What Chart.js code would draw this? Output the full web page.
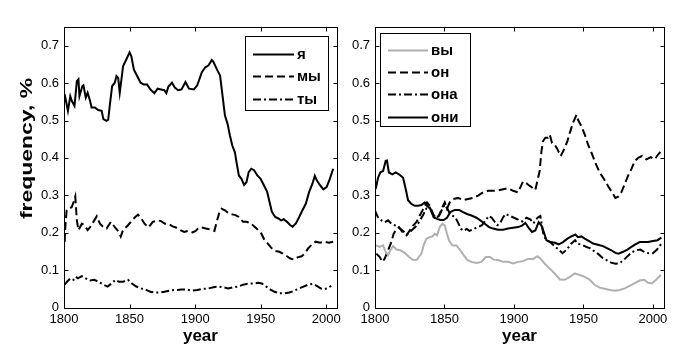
<!DOCTYPE html>
<html>
<head>
<meta charset="utf-8">
<script src="https://cdn.jsdelivr.net/npm/chart.js@4.4.1/dist/chart.umd.min.js"></script>
<style>
    body { margin: 0; background: #fff; width: 685px; height: 352px; overflow: hidden; position: relative; }
    canvas { position: absolute; top: 0; }
    #left-chart { left: 0; }
    #right-chart { left: 345px; }
</style>
</head>
<body>
<canvas id="left-chart" width="345" height="352"></canvas>
<canvas id="right-chart" width="340" height="352"></canvas>
<script>
// Tick labels
const xTicks = [1800, 1850, 1900, 1950, 2000];
const yTicks = [0, 0.1, 0.2, 0.3, 0.4, 0.5, 0.6, 0.7];

// Left panel: я, мы, ты
const yaYears = [1800.5, 1803, 1804.8, 1806, 1808, 1809.8, 1811, 1811.8, 1814, 1814.8, 1816.6, 1818, 1819.9, 1821, 1823.6, 1826, 1828.7, 1830, 1832.5, 1833.7, 1835, 1836.7, 1838.7, 1840, 1841.3, 1842.5, 1843.8, 1845, 1847.5, 1850, 1851.3, 1853.3, 1855.8, 1858.4, 1860.9, 1863.4, 1865.9, 1868.9, 1871.4, 1874, 1876.5, 1878, 1879.5, 1882.3, 1884.5, 1887, 1889.6, 1892.6, 1895.3, 1899, 1901.6, 1905.1, 1907.6, 1910.1, 1912.7, 1913.9, 1916.4, 1919, 1920.7, 1922.7, 1924.7, 1926.5, 1928.3, 1930.3, 1931.5, 1933.3, 1935.3, 1937.3, 1939.1, 1940.8, 1942.8, 1944.9, 1947.4, 1949.9, 1952.4, 1954.9, 1956.7, 1958.5, 1961, 1963.5, 1965.5, 1967.5, 1970, 1972.5, 1974.3, 1976.8, 1979.3, 1981.8, 1984.4, 1986.9, 1989.4, 1991.2, 1992.7, 1995.2, 1997.7, 2000.2, 2002.7, 2005.2];
const yaValues = [0.57, 0.526, 0.565, 0.552, 0.539, 0.605, 0.61, 0.565, 0.592, 0.594, 0.561, 0.574, 0.552, 0.535, 0.535, 0.528, 0.526, 0.504, 0.499, 0.502, 0.543, 0.592, 0.601, 0.619, 0.614, 0.574, 0.61, 0.645, 0.663, 0.682, 0.672, 0.636, 0.619, 0.601, 0.596, 0.596, 0.583, 0.573, 0.585, 0.583, 0.581, 0.573, 0.59, 0.601, 0.588, 0.581, 0.583, 0.603, 0.585, 0.583, 0.594, 0.629, 0.642, 0.647, 0.662, 0.657, 0.638, 0.62, 0.571, 0.513, 0.491, 0.46, 0.433, 0.415, 0.389, 0.353, 0.344, 0.328, 0.335, 0.362, 0.371, 0.367, 0.353, 0.344, 0.327, 0.309, 0.282, 0.256, 0.242, 0.238, 0.233, 0.236, 0.229, 0.22, 0.216, 0.225, 0.242, 0.26, 0.278, 0.309, 0.331, 0.352, 0.34, 0.327, 0.316, 0.322, 0.344, 0.371];

const myYears = [1800.5, 1801, 1802, 1804, 1806, 1807.3, 1808.6, 1809.3, 1809.8, 1811, 1813.6, 1815.6, 1818, 1819.9, 1822.4, 1825, 1827.4, 1830, 1832.5, 1835.7, 1838.7, 1841.8, 1843.3, 1845, 1848.8, 1851.8, 1854.3, 1856.4, 1858.9, 1861.4, 1864.4, 1867.7, 1871.4, 1874, 1877, 1879.5, 1882.8, 1885.3, 1888.6, 1891.6, 1894.6, 1897.9, 1900.4, 1902.9, 1905.1, 1908.1, 1911.4, 1914.7, 1916.4, 1918.2, 1920.2, 1922.7, 1925.7, 1928.3, 1930.8, 1933.3, 1936.6, 1939.1, 1942.3, 1944.9, 1947.4, 1950.4, 1952.9, 1955.4, 1957.9, 1961, 1964.2, 1966.8, 1970, 1972.5, 1975.6, 1978.1, 1981.1, 1983.6, 1986.1, 1988.6, 1991.9, 1995.2, 1998.2, 2002, 2005.2];
const myValues = [0.175, 0.215, 0.26, 0.264, 0.269, 0.282, 0.297, 0.26, 0.233, 0.207, 0.224, 0.22, 0.207, 0.215, 0.229, 0.244, 0.224, 0.215, 0.211, 0.229, 0.215, 0.202, 0.19, 0.207, 0.22, 0.233, 0.242, 0.248, 0.238, 0.224, 0.214, 0.229, 0.233, 0.231, 0.224, 0.224, 0.217, 0.214, 0.207, 0.202, 0.205, 0.201, 0.205, 0.214, 0.214, 0.211, 0.209, 0.205, 0.229, 0.251, 0.264, 0.26, 0.251, 0.249, 0.247, 0.242, 0.229, 0.229, 0.226, 0.217, 0.209, 0.198, 0.18, 0.171, 0.16, 0.151, 0.149, 0.144, 0.137, 0.131, 0.128, 0.134, 0.137, 0.144, 0.158, 0.167, 0.176, 0.173, 0.176, 0.173, 0.176];

const tyYears = [1800.5, 1802.3, 1804.8, 1807.3, 1809, 1810.6, 1813.6, 1816.6, 1819.9, 1823.1, 1826.2, 1830, 1833.2, 1836.2, 1839.2, 1841.8, 1845, 1848.8, 1851.8, 1855.1, 1858.9, 1862.6, 1865.9, 1868.9, 1872.7, 1876.5, 1880.3, 1883.5, 1886.5, 1889.6, 1893.6, 1897.9, 1901.6, 1906.4, 1910.1, 1913.9, 1917.7, 1921.5, 1925.2, 1929, 1932.8, 1936.6, 1940.3, 1944.1, 1947.9, 1950.9, 1954.2, 1957.4, 1960.5, 1964.2, 1968, 1971.8, 1975.6, 1979.3, 1982.6, 1986.1, 1989.4, 1992.7, 1995.7, 1998.7, 2002, 2003.7];
const tyValues = [0.061, 0.069, 0.078, 0.074, 0.082, 0.078, 0.084, 0.078, 0.072, 0.074, 0.069, 0.061, 0.056, 0.064, 0.074, 0.069, 0.069, 0.074, 0.064, 0.056, 0.051, 0.047, 0.042, 0.04, 0.04, 0.042, 0.045, 0.047, 0.047, 0.048, 0.048, 0.045, 0.047, 0.05, 0.051, 0.054, 0.056, 0.054, 0.051, 0.054, 0.056, 0.061, 0.064, 0.064, 0.066, 0.064, 0.056, 0.048, 0.042, 0.038, 0.038, 0.04, 0.045, 0.051, 0.056, 0.061, 0.063, 0.058, 0.051, 0.049, 0.054, 0.058];

// Right panel: вы, он, она, они
const vyYears = [1800.5, 1803.4, 1805.8, 1807.7, 1809.4, 1811, 1813, 1815.4, 1818.2, 1821.4, 1824.5, 1827.4, 1830.2, 1833.4, 1835, 1837, 1839.4, 1841.3, 1843, 1844.6, 1846.6, 1848.5, 1850.2, 1851.8, 1853.3, 1855.7, 1858.6, 1861.4, 1863.8, 1866.2, 1869.4, 1873, 1876.6, 1879.7, 1882.6, 1885.4, 1888.6, 1892.2, 1895.8, 1899.4, 1903, 1906.6, 1910.2, 1913.8, 1916.9, 1919.3, 1922.2, 1925.8, 1929.3, 1933, 1936.5, 1940.2, 1943.8, 1947.3, 1951, 1954.6, 1958.2, 1961.7, 1965.3, 1969, 1972.5, 1976.1, 1979.8, 1983.3, 1987, 1990.5, 1993.7, 1996.5, 1999.4, 2002.5, 2005.7];
const vyValues = [0.166, 0.162, 0.166, 0.149, 0.14, 0.153, 0.164, 0.155, 0.153, 0.146, 0.135, 0.127, 0.128, 0.144, 0.166, 0.184, 0.188, 0.19, 0.197, 0.193, 0.215, 0.224, 0.219, 0.197, 0.179, 0.166, 0.166, 0.153, 0.14, 0.128, 0.122, 0.119, 0.122, 0.135, 0.135, 0.128, 0.127, 0.122, 0.122, 0.118, 0.122, 0.124, 0.13, 0.13, 0.137, 0.13, 0.117, 0.104, 0.091, 0.075, 0.074, 0.082, 0.091, 0.087, 0.082, 0.074, 0.06, 0.053, 0.05, 0.047, 0.045, 0.047, 0.051, 0.058, 0.065, 0.072, 0.074, 0.066, 0.065, 0.075, 0.087];

const onYears = [1801, 1803.4, 1805.3, 1807, 1809.4, 1811.8, 1813.4, 1815.4, 1817.3, 1819.7, 1822.6, 1825, 1827.4, 1829.8, 1832.2, 1834.1, 1835.8, 1837.4, 1839.4, 1841.8, 1844.2, 1846.6, 1848.5, 1850.2, 1851.8, 1853.8, 1856.2, 1859.8, 1863.4, 1867, 1870.6, 1874.2, 1877.8, 1881.4, 1885, 1888.6, 1892.2, 1895.8, 1899.4, 1903, 1906.5, 1909, 1911.4, 1913, 1915.4, 1916.9, 1918.5, 1919.8, 1921, 1922.6, 1924.5, 1925.8, 1927.4, 1929.3, 1931.3, 1933.7, 1936.1, 1938.5, 1940.2, 1942.5, 1945, 1946.1, 1948.5, 1951, 1953.3, 1955.8, 1958.6, 1961.7, 1964.9, 1967.7, 1970.6, 1973, 1975, 1977.3, 1979.7, 1982.1, 1984.5, 1987, 1989.4, 1992.2, 1995.3, 1998.5, 2001.3, 2003.7, 2005.5];
const onValues = [0.144, 0.135, 0.122, 0.131, 0.153, 0.175, 0.197, 0.21, 0.215, 0.202, 0.193, 0.206, 0.219, 0.228, 0.246, 0.259, 0.272, 0.281, 0.272, 0.25, 0.237, 0.25, 0.268, 0.281, 0.264, 0.281, 0.29, 0.293, 0.287, 0.29, 0.293, 0.299, 0.308, 0.312, 0.312, 0.313, 0.316, 0.319, 0.312, 0.308, 0.337, 0.332, 0.325, 0.321, 0.314, 0.339, 0.365, 0.418, 0.445, 0.454, 0.454, 0.462, 0.44, 0.436, 0.423, 0.405, 0.423, 0.445, 0.467, 0.494, 0.515, 0.502, 0.485, 0.462, 0.436, 0.414, 0.387, 0.361, 0.343, 0.325, 0.308, 0.293, 0.296, 0.308, 0.33, 0.352, 0.37, 0.392, 0.4, 0.405, 0.396, 0.402, 0.396, 0.409, 0.416];

const onaYears = [1800, 1802, 1804.6, 1807, 1809.4, 1811.8, 1814.2, 1816.6, 1820, 1823, 1826, 1829, 1832, 1835, 1837, 1839, 1841, 1843, 1846, 1848, 1850, 1852, 1854, 1856, 1858, 1860, 1862, 1864, 1866, 1868, 1871, 1874, 1877, 1880, 1882, 1884, 1886, 1888, 1890, 1892, 1894, 1897, 1900, 1903, 1906, 1909, 1912, 1914, 1917, 1919, 1921, 1923, 1926, 1929, 1932, 1935, 1938, 1941, 1944, 1946, 1949, 1952, 1955, 1958, 1961, 1964, 1967, 1970, 1973, 1976, 1979, 1982, 1985, 1988, 1991, 1994, 1997, 2000, 2003, 2006];
const onaValues = [0.259, 0.242, 0.233, 0.228, 0.233, 0.224, 0.22, 0.215, 0.205, 0.195, 0.205, 0.215, 0.23, 0.25, 0.265, 0.27, 0.255, 0.24, 0.245, 0.26, 0.275, 0.265, 0.25, 0.245, 0.24, 0.225, 0.21, 0.205, 0.21, 0.205, 0.21, 0.215, 0.22, 0.235, 0.245, 0.24, 0.23, 0.22, 0.225, 0.24, 0.25, 0.245, 0.24, 0.235, 0.23, 0.24, 0.235, 0.225, 0.24, 0.245, 0.2, 0.18, 0.175, 0.165, 0.155, 0.145, 0.155, 0.17, 0.18, 0.17, 0.168, 0.162, 0.158, 0.15, 0.142, 0.132, 0.126, 0.12, 0.117, 0.118, 0.127, 0.138, 0.148, 0.153, 0.155, 0.148, 0.145, 0.145, 0.155, 0.17];

const oniYears = [1800.5, 1802.2, 1803.8, 1805.8, 1807.7, 1808.6, 1810, 1812.5, 1814.9, 1817.3, 1820.2, 1822.1, 1823.8, 1826.2, 1828.6, 1831, 1833.4, 1835.8, 1837.4, 1839.8, 1842.2, 1844.6, 1847, 1849.4, 1851.8, 1854.2, 1857.4, 1860.5, 1863.4, 1866.2, 1869.4, 1873, 1875.8, 1879, 1882.1, 1885, 1888.6, 1892.2, 1895.8, 1899.4, 1903, 1905.8, 1908.2, 1910.6, 1913, 1915.4, 1917.8, 1919.8, 1921.7, 1923.4, 1926.5, 1929.4, 1932.2, 1935.3, 1938.5, 1941.3, 1944.2, 1946.1, 1948.5, 1951, 1953.8, 1957, 1960.5, 1964.1, 1967.3, 1970.1, 1973, 1975.4, 1978.5, 1981.7, 1984.5, 1987.4, 1990.5, 1993.7, 1996.5, 2000.1, 2003.3, 2006.1];
const oniValues = [0.317, 0.347, 0.361, 0.365, 0.392, 0.393, 0.361, 0.356, 0.361, 0.356, 0.347, 0.317, 0.287, 0.277, 0.272, 0.272, 0.274, 0.281, 0.272, 0.264, 0.241, 0.237, 0.234, 0.234, 0.24, 0.255, 0.261, 0.261, 0.255, 0.25, 0.246, 0.24, 0.233, 0.224, 0.215, 0.211, 0.208, 0.208, 0.211, 0.213, 0.215, 0.219, 0.226, 0.213, 0.202, 0.206, 0.228, 0.219, 0.2, 0.18, 0.175, 0.173, 0.169, 0.175, 0.184, 0.19, 0.195, 0.188, 0.19, 0.184, 0.178, 0.171, 0.168, 0.164, 0.158, 0.153, 0.146, 0.144, 0.149, 0.155, 0.162, 0.169, 0.175, 0.175, 0.175, 0.178, 0.18, 0.187];

const FONT = '"Liberation Sans", Arial, sans-serif';
const DASHED = [8, 4];
const DASH_DOT = [8, 3, 2, 3];

function toPoints(years, values) {
    return years.map((x, i) => ({ x: x, y: values[i] }));
}

function series(label, years, values, color, dash) {
    return {
        label: label,
        data: toPoints(years, values),
        borderColor: color,
        borderDash: dash,
        borderWidth: 2,
        pointRadius: 0,
        tension: 0,
        fill: false
    };
}

// Box, inward ticks, legend and (optional) y title, drawn on top of the chart
function framePlugin(legend, yTitle) {
    return {
        id: 'frame',
        afterDraw(chart) {
            const ctx = chart.ctx;
            const area = chart.chartArea;
            const sx = chart.scales.x, sy = chart.scales.y;
            ctx.save();
            ctx.strokeStyle = '#000';
            ctx.lineWidth = 1;
            ctx.setLineDash([]);
            const l = Math.round(area.left) + 0.5, r = Math.round(area.right) + 0.5;
            const t = Math.round(area.top) + 0.5, b = Math.round(area.bottom) + 0.5;
            ctx.strokeRect(l, t, r - l, b - t);
            ctx.beginPath();
            xTicks.forEach(v => {
                const px = Math.round(sx.getPixelForValue(v)) + 0.5;
                ctx.moveTo(px, b); ctx.lineTo(px, b - 4);
                ctx.moveTo(px, t); ctx.lineTo(px, t + 4);
            });
            yTicks.forEach(v => {
                const py = Math.round(sy.getPixelForValue(v)) + 0.5;
                ctx.moveTo(l, py); ctx.lineTo(l + 4, py);
                ctx.moveTo(r, py); ctx.lineTo(r - 4, py);
            });
            ctx.stroke();

            // legend
            ctx.fillStyle = '#fff';
            ctx.fillRect(legend.x0, legend.y0, legend.x1 - legend.x0, legend.y1 - legend.y0);
            ctx.strokeRect(legend.x0 + 0.5, legend.y0 + 0.5, legend.x1 - legend.x0, legend.y1 - legend.y0);
            ctx.font = 'bold 15px ' + FONT;
            ctx.textBaseline = 'middle';
            ctx.textAlign = 'left';
            chart.data.datasets.forEach((ds, i) => {
                const y = Math.round(legend.firstY + i * legend.step) + 0.5;
                ctx.strokeStyle = ds.borderColor;
                ctx.lineWidth = 2;
                ctx.setLineDash(ds.borderDash || []);
                ctx.beginPath();
                ctx.moveTo(legend.lineX0, y);
                ctx.lineTo(legend.lineX1, y);
                ctx.stroke();
                ctx.setLineDash([]);
                ctx.fillStyle = '#000';
                ctx.fillText(ds.label, legend.textX, y);
            });

            if (yTitle) {
                // wide glyphs, as in the original rotated label
                ctx.translate(yTitle.x, yTitle.y);
                ctx.rotate(-Math.PI / 2);
                ctx.scale(1.35, 1);
                ctx.font = 'bold 17px ' + FONT;
                ctx.textAlign = 'center';
                ctx.textBaseline = 'middle';
                ctx.fillStyle = '#000';
                ctx.fillText(yTitle.text, 0, 0);
            }
            ctx.restore();
        }
    };
}

function makeChart(id, datasets, axisWidth, padRight, legend, yTitle) {
    return new Chart(document.getElementById(id), {
        type: 'line',
        data: { datasets: datasets },
        options: {
            responsive: false,
            animation: false,
            devicePixelRatio: 1,
            layout: { padding: { left: 0, right: padRight, top: 27, bottom: 0 } },
            plugins: { legend: { display: false }, tooltip: { enabled: false } },
            scales: {
                x: {
                    type: 'linear',
                    min: 1800,
                    max: 2008,
                    border: { display: false },
                    grid: { display: false, drawTicks: false },
                    ticks: {
                        stepSize: 50,
                        includeBounds: false,
                        autoSkip: false,
                        maxRotation: 0,
                        padding: 4,
                        color: '#000',
                        font: { family: FONT, size: 13 },
                        callback: v => String(v)
                    },
                    title: {
                        display: true,
                        text: 'year',
                        color: '#000',
                        font: { family: FONT, size: 17, weight: 'bold' },
                        padding: { top: 0, bottom: 5 }
                    },
                    afterFit: s => { s.height = 44.5; }
                },
                y: {
                    type: 'linear',
                    min: 0,
                    max: 0.75,
                    border: { display: false },
                    grid: { display: false, drawTicks: false },
                    ticks: {
                        stepSize: 0.1,
                        includeBounds: false,
                        autoSkip: false,
                        padding: 5,
                        color: '#000',
                        font: { family: FONT, size: 13 },
                        callback: v => (v === 0 ? '0' : v.toFixed(1))
                    },
                    afterFit: s => { s.width = axisWidth; }
                }
            }
        },
        plugins: [framePlugin(legend, yTitle)]
    });
}

makeChart('left-chart', [
    series('я', yaYears, yaValues, '#000', []),
    series('мы', myYears, myValues, '#000', DASHED),
    series('ты', tyYears, tyValues, '#000', DASH_DOT)
], 64, 5.5,
    { x0: 245, y0: 36, x1: 328, y1: 110, firstY: 53.5, step: 22.5, lineX0: 253, lineX1: 294, textX: 297 },
    { text: 'frequency, %', x: 27, y: 148.5 });

makeChart('right-chart', [
    series('вы', vyYears, vyValues, '#b0b0b0', []),
    series('он', onYears, onValues, '#000', DASHED),
    series('она', onaYears, onaValues, '#000', DASH_DOT),
    series('они', oniYears, oniValues, '#000', [])
], 30, 21,
    { x0: 35, y0: 33, x1: 125, y1: 126, firstY: 50, step: 22.2, lineX0: 43, lineX1: 83, textX: 86 },
    null);
</script>
</body>
</html>
